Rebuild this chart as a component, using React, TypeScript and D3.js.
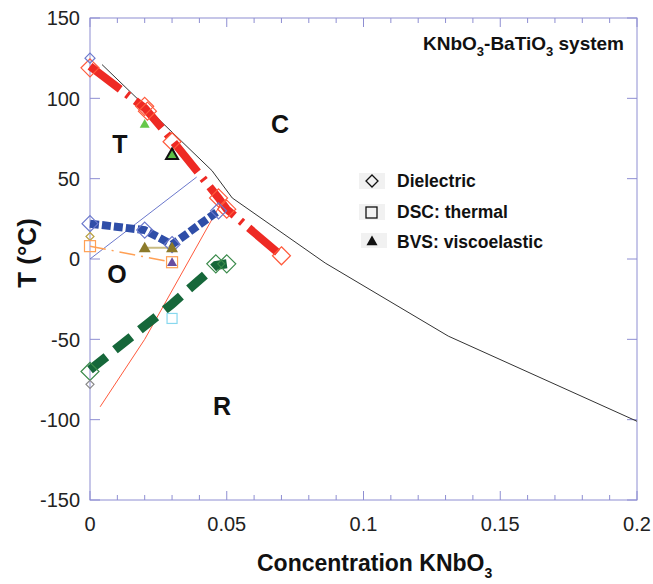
import React from "react";
import * as d3 from "d3";

// ---- data ----
const xTicks = [0, 0.05, 0.1, 0.15, 0.2];
const yTicks = [-150, -100, -50, 0, 50, 100, 150];

// phase boundary lines (thin)
const cubicX = [0.0044, 0.0446, 0.052, 0.086, 0.131, 0.2];
const cubicT = [121, 55, 38, -2.5, -48, -101];
const toX = [0, 0.039];
const toT = [0, 51];
const orX = [0.0037, 0.02, 0.048];
const orT = [-92, -50, 35];

// thick dielectric transition lines
const ctX = [0, 0.02, 0.03, 0.047, 0.05, 0.07];
const ctT = [120, 94, 74, 38, 31, 2];
const otX = [0, 0.02, 0.03, 0.047];
const otT = [22, 18, 9, 30];
const rX = [0, 0.03, 0.046, 0.05];
const rT = [-69, -28, -4, -3];

// dielectric diamonds
const redDX = [0, 0.02, 0.021, 0.03, 0.047, 0.05, 0.07];
const redDT = [119, 95, 92, 73, 38, 31, 2];
const blueDX = [0, 0, 0.02, 0.03, 0.047];
const blueDT = [125, 22, 18, 9, 30];
const greenDX = [0, 0.046, 0.05];
const greenDT = [-70, -3, -3];
const smallDX = [0, 0];
const smallDT = [14, -78];

// DSC squares
const orangeSX = [0, 0.03];
const orangeST = [8, -2];
const cyanSX = [0.03];
const cyanST = [-37];

// BVS triangles
const oliveTX = [0.02, 0.03];
const oliveTT = [7, 7];
const purpleTX = [0.03];
const purpleTT = [-2];
const lgreenTX = [0.02];
const lgreenTT = [84];
const bgreenTX = [0.03];
const bgreenTT = [65];

const legendLabels = ["Dielectric", "DSC: thermal", "BVS: viscoelastic"];

const W = 653;
const H = 584;
const FONT = "'Liberation Sans', Arial, Helvetica, sans-serif";

export default function App() {
  const x = d3.scaleLinear().domain([0, 0.2]).range([90, 637]);
  const y = d3.scaleLinear().domain([-150, 150]).range([500, 18]);
  const line = d3
    .line<[number, number]>()
    .x((d) => x(d[0]))
    .y((d) => y(d[1]));
  const zip = (a: number[], b: number[]) => a.map((v, i) => [v, b[i]] as [number, number]);

  const diamond = (cx: number, cy: number, r: number) =>
    `M${cx},${cy - r}L${cx + r},${cy}L${cx},${cy + r}L${cx - r},${cy}Z`;
  const tri = (cx: number, cy: number, r: number) =>
    `M${cx},${cy - r}L${cx + r},${cy + r * 0.75}L${cx - r},${cy + r * 0.75}Z`;

  const frame = "#8e8ed2";
  const minorX = d3.range(0, 0.2001, 0.01);
  const minorY = d3.range(-150, 150.1, 25);

  return (
    <svg
      width={W}
      height={H}
      style={{ position: "absolute", left: 0, top: 0, background: "#fff" }}
      fontFamily={FONT}
    >
      {/* frame */}
      <rect x={90} y={18} width={547} height={482} fill="none" stroke={frame} strokeWidth={1} />
      {minorX.map((v, i) => {
        const major = Math.abs((v * 100) % 5) < 0.01 || Math.abs((v * 100) % 5 - 5) < 0.01;
        const len = major ? 9 : 5;
        return (
          <g key={"tx" + i}>
            <line x1={x(v)} x2={x(v)} y1={500} y2={500 - len} stroke={frame} />
            <line x1={x(v)} x2={x(v)} y1={18} y2={18 + len} stroke={frame} />
          </g>
        );
      })}
      {minorY.map((v, i) => {
        const major = v % 50 === 0;
        const len = major ? 10 : 0;
        if (!len) return null;
        return (
          <g key={"ty" + i}>
            <line x1={90} x2={90 + len} y1={y(v)} y2={y(v)} stroke={frame} />
            <line x1={637} x2={637 - len} y1={y(v)} y2={y(v)} stroke={frame} />
          </g>
        );
      })}

      {/* tick labels */}
      {yTicks.map((v) => (
        <text key={"yl" + v} x={80} y={y(v)} dy="0.36em" textAnchor="end" fontSize={20} fill="#222">
          {v}
        </text>
      ))}
      {xTicks.map((v) => (
        <text key={"xl" + v} x={x(v)} y={531} textAnchor="middle" fontSize={20} fill="#222">
          {v}
        </text>
      ))}

      {/* axis titles */}
      <text
        transform={`translate(36,253) rotate(-90)`}
        textAnchor="middle"
        fontSize={26}
        fontWeight="bold"
        fill="#111"
      >
        T (°C)
      </text>
      <text x={257} y={571} fontSize={23} fontWeight="bold" fill="#111">
        Concentration KNbO<tspan dy="7" fontSize={14}>3</tspan>
      </text>

      {/* title */}
      <text x={423} y={50} fontSize={19} fontWeight="bold" fill="#111">
        KNbO<tspan dy="6" fontSize={13}>3</tspan>
        <tspan dy="-6">-BaTiO</tspan>
        <tspan dy="6" fontSize={13}>3</tspan>
        <tspan dy="-6"> system</tspan>
      </text>

      {/* thin phase boundaries */}
      <path d={line(zip(cubicX, cubicT))!} fill="none" stroke="#333" strokeWidth={1} />
      <path d={line(zip(toX, toT))!} fill="none" stroke="#6b78cc" strokeWidth={1} />
      <path d={line(zip(orX, orT))!} fill="none" stroke="#ff5a3c" strokeWidth={1} />

      {/* thick dielectric lines */}
      <path
        d={line(zip(ctX, ctT))!}
        fill="none"
        stroke="#ee2a24"
        strokeWidth={8}
        strokeDasharray="38,8,3,8"
      />
      <path
        d={line(zip(otX, otT))!}
        fill="none"
        stroke="#2f4ea8"
        strokeWidth={8}
        strokeDasharray="9,3"
      />
      <path
        d={line(zip(rX, rT))!}
        fill="none"
        stroke="#16673a"
        strokeWidth={9}
        strokeDasharray="21,11"
      />

      {/* DSC orange dash-dot line */}
      <path
        d={line(zip(orangeSX, orangeST))!}
        fill="none"
        stroke="#ffa055"
        strokeWidth={1.5}
        strokeDasharray="16,6,2,6"
      />
      {/* BVS olive connecting line */}
      <path d={line(zip(oliveTX, oliveTT))!} fill="none" stroke="#c9bc84" strokeWidth={2} />

      {/* diamonds */}
      {redDX.map((v, i) => (
        <path key={"rd" + i} d={diamond(x(v), y(redDT[i]), 9)} fill="none" stroke="#ff5a3c" strokeWidth={1.2} />
      ))}
      {blueDX.map((v, i) => (
        <path key={"bd" + i} d={diamond(x(v), y(blueDT[i]), i === 0 ? 5 : 8)} fill="none" stroke="#6b78cc" strokeWidth={1.2} />
      ))}
      {greenDX.map((v, i) => (
        <path key={"gd" + i} d={diamond(x(v), y(greenDT[i]), 9)} fill="none" stroke="#3a8a4a" strokeWidth={1.2} />
      ))}
      <path d={diamond(x(smallDX[0]), y(smallDT[0]), 4)} fill="none" stroke="#b8a040" strokeWidth={1.2} />
      <path d={diamond(x(smallDX[1]), y(smallDT[1]), 4)} fill="none" stroke="#888" strokeWidth={1.2} />

      {/* squares */}
      {orangeSX.map((v, i) => (
        <rect key={"os" + i} x={x(v) - 5.5} y={y(orangeST[i]) - 5.5} width={11} height={11} fill="none" stroke="#ffa055" strokeWidth={1.2} />
      ))}
      {cyanSX.map((v, i) => (
        <rect key={"cs" + i} x={x(v) - 5} y={y(cyanST[i]) - 5} width={10} height={10} fill="none" stroke="#88d8ee" strokeWidth={1.2} />
      ))}

      {/* triangles */}
      {oliveTX.map((v, i) => (
        <path key={"ot" + i} d={tri(x(v), y(oliveTT[i]), 6)} fill="#8c7a2a" />
      ))}
      {purpleTX.map((v, i) => (
        <path key={"pt" + i} d={tri(x(v), y(purpleTT[i]), 5)} fill="#6a4ea0" />
      ))}
      {lgreenTX.map((v, i) => (
        <path key={"lt" + i} d={tri(x(v), y(lgreenTT[i]), 5)} fill="#66c84a" />
      ))}
      {bgreenTX.map((v, i) => (
        <path key={"gt" + i} d={tri(x(v), y(bgreenTT[i]), 6)} fill="#5cbf45" stroke="#111" strokeWidth={2} />
      ))}

      {/* region labels */}
      <g fontSize={25} fontWeight="bold" fill="#111" textAnchor="middle">
        <text x={120} y={153}>T</text>
        <text x={280} y={133}>C</text>
        <text x={117} y={283}>O</text>
        <text x={222} y={415}>R</text>
      </g>

      {/* legend */}
      <g>
        <rect x={359} y={173} width={26} height={16} fill="#f1f1f1" />
        <path d={diamond(372, 181, 6)} fill="none" stroke="#111" strokeWidth={1.3} />
        <rect x={359} y={204} width={26} height={16} fill="#f1f1f1" />
        <rect x={366} y={207} width={11} height={11} fill="none" stroke="#111" strokeWidth={1.3} />
        <rect x={361} y={233} width={26} height={15} fill="#f1f1f1" />
        <path d={tri(372, 241, 5.5)} fill="#111" />
        <g fontSize={17.5} fontWeight="bold" fill="#111">
          <text x={397} y={187}>{legendLabels[0]}</text>
          <text x={397} y={218}>{legendLabels[1]}</text>
          <text x={397} y={248}>{legendLabels[2]}</text>
        </g>
      </g>
    </svg>
  );
}
